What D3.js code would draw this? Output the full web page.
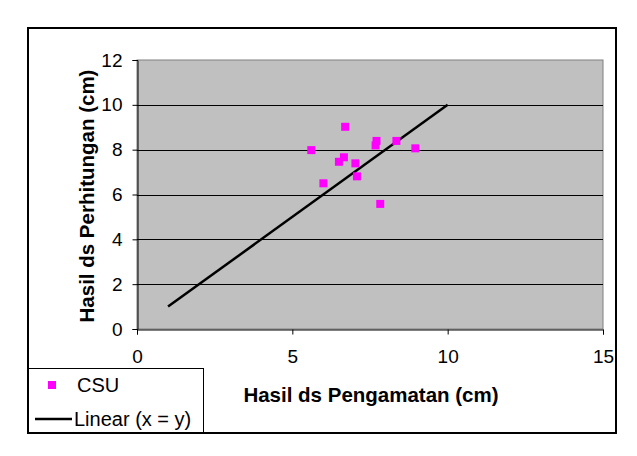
<!DOCTYPE html>
<html>
<head>
<meta charset="utf-8">
<script src="https://cdn.jsdelivr.net/npm/d3@7"></script>
<style>
  html, body { margin: 0; padding: 0; background: #fff; }
  svg { display: block; font-family: "Liberation Sans", Arial, sans-serif; }
</style>
</head>
<body>
<div id="chart"></div>
<script>
// Data
const csuObserved = [6.70, 5.61, 7.71, 7.68, 8.35, 8.96, 6.66, 6.50, 7.03, 7.08, 6.00, 7.83];
const csuComputed = [9.02, 7.98, 8.39, 8.19, 8.39, 8.06, 7.66, 7.46, 7.39, 6.81, 6.50, 5.58];
const lineX = [1, 10];
const lineY = [1, 10];
const xTicks = [0, 5, 10, 15];
const yTicks = [0, 2, 4, 6, 8, 10, 12];
const xTitle = 'Hasil ds Pengamatan (cm)';
const yTitle = 'Hasil ds Perhitungan (cm)';
const legendLabels = ['CSU', 'Linear (x = y)'];

const WIDTH = 637, HEIGHT = 456;
const PLOT = { left: 137, right: 603, top: 60, bottom: 329 };
const FONT = '"Liberation Sans", Arial, sans-serif';

const svg = d3.select('#chart').append('svg')
    .attr('width', WIDTH)
    .attr('height', HEIGHT);

// Outer chart border
svg.append('rect')
    .attr('x', 28).attr('y', 28)
    .attr('width', 588).attr('height', 405)
    .attr('fill', '#fff')
    .attr('stroke', '#000')
    .attr('stroke-width', 2);

const x = d3.scaleLinear().domain([0, 15]).range([PLOT.left, PLOT.right]);
const y = d3.scaleLinear().domain([0, 12]).range([PLOT.bottom, PLOT.top]);

// Plot area
svg.append('rect')
    .attr('x', PLOT.left).attr('y', PLOT.top)
    .attr('width', PLOT.right - PLOT.left)
    .attr('height', PLOT.bottom - PLOT.top)
    .attr('fill', '#c0c0c0')
    .attr('stroke', '#808080')
    .attr('stroke-width', 1);

// Gridlines
svg.append('g')
    .selectAll('line')
    .data(yTicks.filter(d => d > 0 && d < 12))
    .join('line')
    .attr('x1', PLOT.left).attr('x2', PLOT.right)
    .attr('y1', d => Math.round(y(d)) + 0.5)
    .attr('y2', d => Math.round(y(d)) + 0.5)
    .attr('stroke', '#000')
    .attr('stroke-width', 1);

// Axes
const xAxis = svg.append('g')
    .attr('transform', `translate(0,${PLOT.bottom + 0.5})`)
    .call(d3.axisBottom(x).tickValues(xTicks).tickSize(5).tickPadding(15));
const yAxis = svg.append('g')
    .attr('transform', `translate(${PLOT.left + 0.5},0)`)
    .call(d3.axisLeft(y).tickValues(yTicks).tickSize(5).tickPadding(10));

[xAxis, yAxis].forEach(g => {
    g.select('.domain').attr('stroke', '#000');
    g.selectAll('.tick line').attr('stroke', '#000');
    g.selectAll('.tick text')
        .attr('fill', '#000')
        .style('font-size', '19px')
        .style('font-family', FONT);
});

// x = y line
const line = d3.line()
    .x(d => x(d[0]))
    .y(d => y(d[1]));
svg.append('path')
    .datum(d3.zip(lineX, lineY))
    .attr('d', line)
    .attr('fill', 'none')
    .attr('stroke', '#000')
    .attr('stroke-width', 2.5);

// CSU markers
const ms = 8;
svg.append('g')
    .selectAll('rect')
    .data(d3.zip(csuObserved, csuComputed))
    .join('rect')
    .attr('x', d => x(d[0]) - ms / 2)
    .attr('y', d => y(d[1]) - ms / 2)
    .attr('width', ms).attr('height', ms)
    .attr('fill', '#ff00ff');

// Axis titles
svg.append('text')
    .attr('x', 371).attr('y', 402)
    .attr('text-anchor', 'middle')
    .style('font-size', '20.5px')
    .style('font-weight', 'bold')
    .text(xTitle);

svg.append('text')
    .attr('transform', 'translate(94,196) rotate(-90)')
    .attr('text-anchor', 'middle')
    .style('font-size', '20.5px')
    .style('font-weight', 'bold')
    .text(yTitle);

// Legend
const legend = svg.append('g');
legend.append('rect')
    .attr('x', 28.5).attr('y', 368.5)
    .attr('width', 175).attr('height', 64)
    .attr('fill', '#fff')
    .attr('stroke', '#000')
    .attr('stroke-width', 1);
legend.append('rect')
    .attr('x', 48).attr('y', 381)
    .attr('width', 8).attr('height', 8)
    .attr('fill', '#ff00ff');
legend.append('line')
    .attr('x1', 35).attr('x2', 72)
    .attr('y1', 419).attr('y2', 419)
    .attr('stroke', '#000')
    .attr('stroke-width', 2.5);
legend.selectAll('text.lg')
    .data(legendLabels)
    .join('text')
    .attr('class', 'lg')
    .attr('x', (d, i) => i === 0 ? 77 : 74)
    .attr('y', (d, i) => i === 0 ? 392 : 426)
    .style('font-size', '20px')
    .text(d => d);
</script>
</body>
</html>
